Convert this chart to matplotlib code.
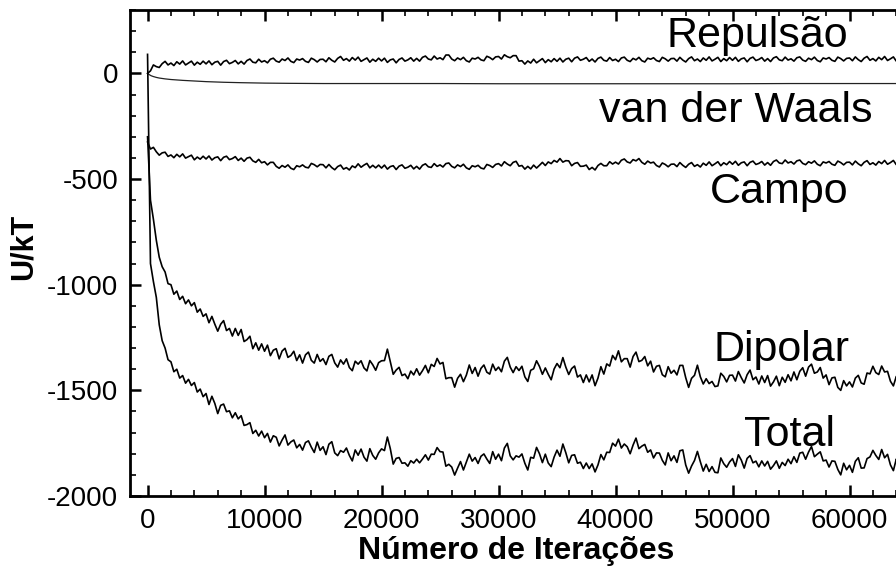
import numpy as np
import matplotlib
matplotlib.use("Agg")
import matplotlib.pyplot as plt
from matplotlib.ticker import MultipleLocator

plt.rcParams['font.family'] = ['Liberation Sans', 'DejaVu Sans']
plt.rcParams['axes.unicode_minus'] = False

# iterations sampled every 250 steps, 0 .. 65000
iterations = np.arange(0, 65001, 250)

dipolar = [
    -300, -600, -690, -790, -870, -915, -940, -995, -1000, -1045, -1030, -1070, -1055, -1090, -1072, -1100, -1085, -1130, -1115, -1150,
    -1138, -1180, -1150, -1187, -1220, -1187, -1170, -1217, -1207, -1243, -1207, -1240, -1212, -1269, -1260, -1244, -1303, -1275, -1310, -1280,
    -1315, -1286, -1336, -1310, -1303, -1351, -1314, -1301, -1344, -1335, -1315, -1359, -1332, -1371, -1332, -1319, -1358, -1371, -1330, -1363,
    -1350, -1378, -1339, -1330, -1370, -1390, -1356, -1376, -1351, -1392, -1407, -1362, -1376, -1360, -1394, -1408, -1359, -1379, -1405, -1369,
    -1360, -1359, -1305, -1364, -1424, -1404, -1391, -1430, -1423, -1445, -1409, -1427, -1398, -1428, -1407, -1382, -1417, -1377, -1387, -1349,
    -1375, -1368, -1445, -1440, -1440, -1485, -1443, -1424, -1459, -1428, -1380, -1420, -1392, -1433, -1396, -1380, -1414, -1423, -1376, -1406,
    -1390, -1412, -1362, -1344, -1390, -1416, -1388, -1406, -1386, -1436, -1458, -1405, -1398, -1360, -1387, -1424, -1394, -1424, -1450, -1399,
    -1373, -1393, -1345, -1390, -1425, -1397, -1385, -1437, -1427, -1463, -1427, -1460, -1427, -1478, -1442, -1388, -1423, -1375, -1385, -1335,
    -1355, -1313, -1365, -1350, -1350, -1390, -1340, -1319, -1364, -1358, -1340, -1384, -1362, -1413, -1386, -1382, -1426, -1436, -1388, -1419,
    -1405, -1427, -1382, -1382, -1440, -1486, -1443, -1429, -1381, -1436, -1470, -1445, -1468, -1458, -1482, -1479, -1419, -1434, -1460, -1429,
    -1428, -1456, -1411, -1440, -1465, -1426, -1404, -1450, -1437, -1470, -1432, -1463, -1430, -1480, -1460, -1433, -1478, -1438, -1462, -1426,
    -1455, -1413, -1450, -1410, -1393, -1433, -1390, -1376, -1419, -1413, -1392, -1442, -1427, -1473, -1441, -1438, -1486, -1500, -1454, -1479,
    -1460, -1484, -1442, -1429, -1465, -1471, -1418, -1422, -1386, -1416, -1425, -1385, -1413, -1410, -1457, -1479, -1434, -1452, -1475, -1441,
    -1450,
]

total = [
    90, -900, -985, -1060, -1190, -1265, -1300, -1355, -1365, -1412, -1400, -1442, -1430, -1466, -1448, -1477, -1463, -1508, -1494, -1530,
    -1515, -1567, -1528, -1562, -1610, -1571, -1565, -1601, -1597, -1630, -1606, -1635, -1620, -1666, -1662, -1653, -1704, -1689, -1716, -1693,
    -1724, -1704, -1745, -1715, -1722, -1763, -1735, -1711, -1759, -1744, -1735, -1772, -1756, -1783, -1747, -1739, -1769, -1794, -1745, -1784,
    -1767, -1804, -1755, -1743, -1796, -1809, -1785, -1793, -1773, -1808, -1834, -1782, -1807, -1778, -1816, -1835, -1776, -1808, -1826, -1796,
    -1777, -1785, -1721, -1776, -1849, -1822, -1818, -1845, -1843, -1859, -1833, -1844, -1826, -1843, -1825, -1805, -1830, -1802, -1803, -1771,
    -1790, -1792, -1859, -1850, -1863, -1901, -1868, -1837, -1877, -1840, -1802, -1835, -1818, -1846, -1812, -1801, -1825, -1846, -1790, -1826,
    -1802, -1833, -1773, -1751, -1810, -1829, -1810, -1816, -1801, -1845, -1877, -1817, -1821, -1770, -1800, -1842, -1802, -1844, -1861, -1816,
    -1783, -1812, -1754, -1795, -1843, -1808, -1805, -1845, -1840, -1870, -1844, -1870, -1848, -1886, -1853, -1804, -1829, -1793, -1794, -1750,
    -1764, -1731, -1773, -1754, -1767, -1800, -1759, -1726, -1776, -1764, -1756, -1793, -1782, -1820, -1796, -1797, -1831, -1853, -1796, -1833,
    -1810, -1841, -1786, -1782, -1853, -1892, -1858, -1832, -1789, -1838, -1882, -1850, -1884, -1861, -1888, -1890, -1820, -1847, -1864, -1839,
    -1823, -1860, -1805, -1830, -1868, -1822, -1809, -1843, -1835, -1862, -1834, -1858, -1836, -1873, -1856, -1834, -1869, -1841, -1856, -1826,
    -1847, -1814, -1841, -1797, -1793, -1826, -1792, -1766, -1814, -1802, -1791, -1834, -1830, -1863, -1834, -1836, -1874, -1900, -1845, -1876,
    -1855, -1888, -1836, -1819, -1868, -1867, -1823, -1815, -1784, -1808, -1827, -1780, -1819, -1803, -1853, -1880, -1825, -1855, -1869, -1841,
    -1850,
]

campo = [
    -325, -358, -350, -371, -387, -376, -373, -393, -386, -399, -383, -395, -381, -401, -394, -387, -409, -396, -406, -392,
    -405, -391, -410, -399, -395, -413, -397, -392, -408, -403, -394, -412, -401, -416, -401, -397, -414, -421, -407, -423,
    -418, -433, -421, -421, -440, -449, -436, -444, -433, -449, -455, -437, -442, -433, -444, -447, -426, -432, -442, -431,
    -432, -447, -431, -446, -456, -441, -434, -453, -446, -457, -438, -446, -428, -444, -434, -426, -447, -435, -447, -434,
    -448, -434, -453, -441, -437, -455, -439, -433, -449, -444, -435, -452, -440, -453, -435, -428, -442, -445, -427, -440,
    -433, -443, -427, -424, -440, -447, -433, -441, -430, -447, -454, -437, -442, -435, -448, -452, -431, -436, -445, -431,
    -427, -438, -418, -429, -437, -421, -416, -439, -436, -453, -440, -452, -434, -448, -435, -421, -436, -419, -427, -412,
    -420, -403, -420, -413, -414, -437, -426, -422, -440, -439, -434, -455, -445, -457, -436, -426, -437, -437, -418, -429,
    -420, -429, -411, -405, -419, -424, -408, -414, -403, -421, -430, -415, -424, -420, -436, -443, -424, -431, -442, -430,
    -429, -441, -422, -435, -445, -430, -422, -440, -432, -443, -425, -435, -419, -437, -428, -418, -437, -423, -432, -417,
    -430, -416, -435, -423, -419, -437, -421, -415, -431, -426, -417, -434, -422, -435, -417, -410, -424, -427, -410, -424,
    -418, -429, -414, -410, -426, -432, -418, -425, -414, -430, -437, -419, -424, -417, -430, -435, -415, -422, -433, -421,
    -420, -433, -415, -428, -437, -421, -413, -431, -423, -434, -417, -427, -412, -430, -422, -412, -432, -417, -427, -412,
    -420,
]

repulsao = [
    0, 12, 40, 32, 28, 46, 57, 40, 49, 37, 55, 44, 59, 40, 49, 58, 39, 53, 43, 58,
    45, 59, 41, 53, 57, 39, 56, 62, 46, 52, 61, 45, 57, 44, 61, 68, 53, 50, 67, 54,
    60, 50, 67, 72, 58, 53, 68, 61, 73, 57, 51, 68, 63, 70, 57, 52, 72, 65, 54, 66,
    67, 55, 74, 62, 54, 71, 80, 62, 70, 58, 75, 63, 77, 57, 65, 73, 53, 67, 57, 72,
    59, 72, 52, 64, 68, 50, 66, 73, 58, 64, 74, 58, 71, 58, 76, 82, 68, 64, 82, 68,
    74, 65, 87, 87, 68, 60, 73, 65, 76, 60, 54, 72, 68, 76, 64, 60, 81, 75, 65, 78,
    80, 68, 88, 79, 74, 84, 84, 58, 60, 44, 59, 49, 67, 50, 60, 70, 51, 65, 55, 70,
    57, 72, 54, 67, 72, 55, 72, 78, 62, 67, 75, 57, 68, 54, 71, 77, 62, 58, 75, 61,
    67, 56, 73, 77, 62, 56, 71, 64, 76, 60, 54, 72, 67, 74, 61, 56, 76, 69, 58, 70,
    71, 58, 76, 63, 54, 70, 78, 60, 68, 56, 73, 62, 78, 59, 67, 76, 56, 70, 60, 75,
    62, 76, 57, 69, 73, 55, 71, 77, 61, 66, 75, 58, 70, 56, 73, 79, 64, 60, 77, 63,
    69, 58, 74, 78, 63, 57, 72, 65, 77, 61, 55, 73, 68, 75, 62, 57, 77, 70, 59, 71,
    73, 60, 78, 65, 56, 72, 80, 62, 70, 59, 76, 65, 80, 61, 69, 78, 58, 72, 62, 77,
    70,
]

vdw_iterations = [0, 150, 300, 500, 750, 1000, 1500, 2000, 3000, 4000, 5000, 6500, 8000,
                  10000, 12000, 15000, 20000, 25000, 30000, 35000, 40000, 45000, 50000,
                  55000, 60000, 65000]
vdw = [0, -6, -11, -15, -19, -22, -26, -29, -33, -36, -39, -42, -44,
       -46, -47, -48, -48, -48, -49, -49, -49, -49, -49, -48, -48, -48]

labels = ["Repulsão", "van der Waals", "Campo", "Dipolar", "Total"]
label_x = [52100, 50300, 54000, 54200, 54900]
label_y = [123, -231, -613, -1363, -1764]

W, H = 896, 567
fig = plt.figure(figsize=(W / 100, H / 100), dpi=100)
ax = fig.add_axes([130 / W, (H - 496) / H, 778 / W, 486 / H])

lw = 1.2
ax.plot(iterations, repulsao, color='black', lw=lw)
ax.plot(vdw_iterations, vdw, color='#222222', lw=0.9)
ax.plot(iterations, campo, color='black', lw=lw)
ax.plot(iterations, dipolar, color='black', lw=lw)
ax.plot(iterations, total, color='black', lw=lw)

for s, xx, yy in zip(labels, label_x, label_y):
    ax.text(xx, yy, s, fontsize=31, ha='center', va='baseline', color='black')

ax.set_xlim(-1500, 65000)
ax.set_ylim(-2000, 300)
ax.xaxis.set_major_locator(MultipleLocator(10000))
ax.xaxis.set_minor_locator(MultipleLocator(2000))
ax.yaxis.set_major_locator(MultipleLocator(500))
ax.yaxis.set_minor_locator(MultipleLocator(100))

ax.tick_params(which='both', direction='in', top=True, right=True, labelsize=20, pad=8.5)
ax.tick_params(which='major', length=8, width=1.8)
ax.tick_params(which='minor', length=4.3, width=1.2)
for sp in ax.spines.values():
    sp.set_linewidth(2)

ax.set_xlabel("Número de Iterações", fontsize=23, fontweight='bold')
ax.set_ylabel("U/kT", fontsize=22, fontweight='bold')
ax.xaxis.set_label_coords(0.497, -0.082)
ax.yaxis.set_label_coords(-0.118, 0.512)

fig.savefig("out.png", dpi=100)
